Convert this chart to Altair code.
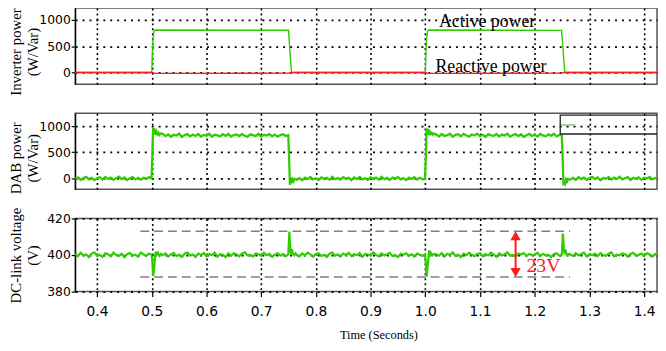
import altair as alt
import pandas as pd

# ---------------- data ----------------
X_DOMAIN = [0.36, 1.4235]
X_TICKS = [0.4, 0.5, 0.6, 0.7, 0.8, 0.9, 1.0, 1.1, 1.2, 1.3, 1.4]
POWER_TICKS = [0, 500, 1000]
VOLT_TICKS = [380, 400, 420]
P1_DOMAIN = [-222, 1222]
P2_DOMAIN = [-208, 1245]
P3_DOMAIN = [380, 420]
STEP = 0.005

# Inverter power (clean)
inv_active_t = [0.36, 0.5, 0.501, 0.5025, 0.504, 0.506, 0.75, 0.7515, 0.7535, 0.7555,
                1.0, 1.001, 1.0025, 1.004, 1.006, 1.249, 1.251, 1.253, 1.255, 1.4235]
inv_active_v = [0, 0, 350, 650, 780, 805, 800, 560, 250, 0,
                0, 350, 650, 780, 805, 798, 560, 250, 0, 0]
inv_reactive_t = [0.36, 0.5, 0.504, 0.75, 0.755, 1.0, 1.004, 1.25, 1.255, 1.4235]
inv_reactive_v = [0, 0, -18, -14, 0, 0, -18, -14, 0, 0]

# DAB power (noisy)
dab_run0 = [-12, 20, -28, 9, 30, -17, 13, -32, 3, 24, -21, 29, -9, 16, -27, 6, 33, -13, 19, -30,
            2, 25, -19, 11, -24, 14, -6, 21]
dab_tr1_t = [0.4995, 0.5010, 0.5025, 0.5040, 0.5055, 0.5070, 0.5085, 0.5100, 0.5120, 0.5140, 0.5160]
dab_tr1_v = [5, 420, 965, 860, 905, 835, 890, 845, 875, 830, 860]
dab_run1 = [852, 808, 843, 797, 834, 820, 856, 794, 828, 847, 803, 838, 811, 850, 799, 831, 816,
            853, 796, 835, 824, 804, 845, 813, 851, 800, 830, 841, 808, 848, 815, 795, 842, 827,
            809, 852, 801, 833, 819, 849, 806, 839, 798, 829, 845, 812]
dab_tr2_t = [0.7495, 0.7510, 0.7525, 0.7540, 0.7555, 0.7570, 0.7590, 0.7610]
dab_tr2_v = [825, 420, -120, -30, -85, -15, -55, -10]
dab_run2 = [-25, 8, -34, 17, -12, 28, -19, 4, -30, 21, -8, 14, -26, 31, -15, 7, -22, 25, -4, 12,
            -33, 18, -11, 29, -17, 3, -28, 22, -7, 15, -24, 33, -14, 10, -29, 19, -3, 26, -18, 6,
            -31, 17, -10, 23, -21, 11, -15]
dab_tr3_t = [0.9995, 1.0010, 1.0025, 1.0040, 1.0055, 1.0070, 1.0085, 1.0100, 1.0120, 1.0140, 1.0160]
dab_tr3_v = [-5, 410, 955, 870, 900, 830, 885, 850, 870, 835, 855]
dab_run3 = [838, 801, 849, 811, 827, 855, 796, 832, 846, 805, 852, 819, 798, 841, 823, 857, 807,
            833, 793, 847, 826, 809, 851, 802, 838, 820, 854, 799, 830, 848, 808, 843, 792, 825,
            852, 813, 836, 801, 850, 822, 805, 842, 817, 853, 803, 831]
dab_tr4_t = [1.2495, 1.2510, 1.2525, 1.2540, 1.2555, 1.2570, 1.2590, 1.2610]
dab_tr4_v = [820, 400, -130, -40, -90, -20, -60, -15]
dab_run4 = [-20, 12, -30, 23, -8, 17, -26, 5, 29, -14, 21, -34, 10, -4, 26, -22, 15, -11, 31, -18,
            3, 25, -28, 11, -7, 19, -25, 14, -1, 28, -17, 8, -12]

# DC-link voltage (noisy)
dc_run0 = [400.6, 399.4, 401.2, 399.9, 400.3, 398.9, 400.8, 401.5, 399.6, 400.1, 399.0, 400.9,
           400.4, 399.3, 401.3, 400.0, 399.5, 400.7, 398.8, 400.5, 401.1, 399.7, 400.2, 399.1,
           401.4, 400.3, 399.6, 400.8]
dc_tr1_t = [0.4995, 0.5010, 0.5025, 0.5040, 0.5055, 0.5070, 0.5090, 0.5110, 0.5140, 0.5170]
dc_tr1_v = [400.2, 396.5, 388.5, 391.5, 396.8, 401.8, 400.2, 401.3, 399.6, 400.7]
dc_run1 = [399.8, 400.9, 399.2, 400.4, 401.2, 399.5, 400.1, 398.9, 400.7, 401.4, 399.7, 400.3,
           399.0, 400.8, 400.0, 401.1, 399.4, 400.6, 399.9, 401.3, 399.1, 400.5, 400.2, 398.9,
           400.9, 399.6, 401.0, 400.3, 399.3, 400.7, 401.5, 399.8, 400.1, 399.2, 400.8, 400.4,
           399.5, 401.2, 399.9, 400.6, 399.0, 400.2, 401.0, 399.7, 400.5, 399.4]
dc_tr2_t = [0.7495, 0.7505, 0.7515, 0.7530, 0.7545, 0.7560, 0.7580, 0.7600, 0.7630]
dc_tr2_v = [400.3, 406.5, 412.8, 405.0, 400.4, 403.2, 400.8, 399.8, 400.9]
dc_run2 = [400.1, 399.3, 400.9, 399.8, 401.3, 400.4, 399.1, 400.6, 401.0, 399.5, 400.2, 398.9,
           400.7, 401.4, 399.7, 400.3, 399.2, 400.8, 400.0, 401.2, 399.4, 400.5, 399.9, 401.1,
           399.0, 400.6, 400.3, 399.6, 401.5, 400.1, 399.3, 400.9, 399.8, 400.4, 401.2, 399.5,
           400.0, 398.9, 400.7, 400.2, 401.0, 399.6, 400.4, 399.2, 400.8, 400.1, 399.7]
dc_tr3_t = [0.9995, 1.0010, 1.0025, 1.0040, 1.0055, 1.0070, 1.0085, 1.0100, 1.0130, 1.0160]
dc_tr3_v = [400.1, 395.0, 388.2, 393.0, 397.5, 402.5, 399.0, 401.2, 399.8, 400.6]
dc_run3 = [400.4, 399.6, 401.1, 399.2, 400.7, 400.0, 401.4, 399.5, 400.3, 398.9, 400.8, 399.9,
           401.2, 400.1, 399.4, 400.6, 401.0, 399.3, 400.5, 399.8, 401.3, 400.2, 399.0, 400.9,
           399.7, 400.4, 401.5, 399.6, 400.0, 399.1, 400.8, 400.3, 401.1, 399.5, 400.6, 399.9,
           400.2, 401.3, 399.4, 400.7, 399.8, 400.1, 398.9, 400.5, 401.0, 399.6]
dc_tr4_t = [1.2495, 1.2505, 1.2515, 1.2530, 1.2545, 1.2560, 1.2580, 1.2600, 1.2630]
dc_tr4_v = [400.2, 406.0, 411.8, 404.5, 400.6, 403.0, 400.5, 399.9, 400.7]
dc_run4 = [400.3, 399.5, 401.0, 399.8, 400.6, 401.3, 399.2, 400.4, 399.9, 400.8, 399.4, 401.1,
           400.0, 399.6, 400.7, 401.4, 399.3, 400.2, 399.8, 400.9, 400.4, 399.1, 400.6, 401.2,
           399.7, 400.1, 400.8, 399.5, 401.0, 400.3, 399.2, 400.5, 399.9]

# annotations
text1_t = [1.113, 1.12]
text1_v = [963, 110]
text1_label = ["Active power", "Reactive power"]
box_t = [1.2466, 1.46]
box_v = [849, 1208]
box_line_t = [1.247, 1.274]
box_line_v = 1019
dash_t = [0.479, 1.2646]
dash_levels = [413, 388]
arrow_t = 1.165
arrow_heads_v = [410.6, 390.4]
label23_t, label23_v, label23 = 1.216, 394, "23V"

# ---------------- helpers ----------------
GREEN = "#2ecc00"
RED = "#ff1a1a"
SERIF = "Liberation Serif"
SANS = "DejaVu Sans"
W = 589


def build(parts):
    t, v = [], []
    for p in parts:
        if p[0] == "run":
            start, vals = p[1], p[2]
            t += [round(start + i * STEP, 4) for i in range(len(vals))]
            v += list(vals)
        else:
            t += list(p[1])
            v += list(p[2])
    return pd.DataFrame({"t": t, "v": v})


active_df = pd.DataFrame({"t": inv_active_t, "v": inv_active_v})
reactive_df = pd.DataFrame({"t": inv_reactive_t, "v": inv_reactive_v})
dab_df = build([("run", 0.360, dab_run0), ("tr", dab_tr1_t, dab_tr1_v), ("run", 0.520, dab_run1),
                ("tr", dab_tr2_t, dab_tr2_v), ("run", 0.765, dab_run2), ("tr", dab_tr3_t, dab_tr3_v),
                ("run", 1.020, dab_run3), ("tr", dab_tr4_t, dab_tr4_v), ("run", 1.265, dab_run4)])
dc_df = build([("run", 0.360, dc_run0), ("tr", dc_tr1_t, dc_tr1_v), ("run", 0.520, dc_run1),
               ("tr", dc_tr2_t, dc_tr2_v), ("run", 0.765, dc_run2), ("tr", dc_tr3_t, dc_tr3_v),
               ("run", 1.020, dc_run3), ("tr", dc_tr4_t, dc_tr4_v), ("run", 1.265, dc_run4)])


def x_enc(show):
    kw = dict(values=X_TICKS, grid=True, gridColor="black", gridDash=[2, 3], gridWidth=1.6,
              gridOpacity=1, domain=False, labels=show, ticks=show, tickSize=5,
              tickColor="black", tickWidth=1.2, labelFont=SANS, labelFontSize=14,
              labelColor="black", labelPadding=8, format=".1f", labelFlush=False)
    if show:
        kw.update(title="Time (Seconds)", titleFont=SERIF, titleFontSize=12.5,
                  titleFontWeight="normal", titleColor="black", titleX=307, titleY=44,
                  titleAlign="center", titleBaseline="middle")
    else:
        kw.update(title=None)
    return alt.X("t:Q", scale=alt.Scale(domain=X_DOMAIN, nice=False, zero=False),
                 axis=alt.Axis(**kw))


def y_enc(domain, ticks, title, title_y):
    return alt.Y("v:Q", scale=alt.Scale(domain=domain, nice=False, zero=False),
                 axis=alt.Axis(values=ticks, format="d", grid=True, gridColor="black",
                               gridDash=[2, 5], gridWidth=1.8, gridOpacity=1,
                               domain=True, domainColor="black", domainWidth=1.2,
                               ticks=True, tickSize=4, tickColor="black", tickWidth=1.2,
                               labelFont=SANS, labelFontSize=12.5, labelColor="black",
                               labelPadding=1, labelFlush=False,
                               title=title, titleFont=SERIF, titleFontSize=15,
                               titleFontWeight="normal", titleColor="black",
                               titleAngle=270, titleX=-60, titleY=title_y,
                               titleAlign="center", titleBaseline="middle",
                               titleLineHeight=17))


# ---------------- panel 1 ----------------
y1 = y_enc(P1_DOMAIN, POWER_TICKS, ["Inverter power", "(W/Var)"], 44)
txt1_df = pd.DataFrame({"t": text1_t, "v": text1_v, "label": text1_label})
p1 = alt.layer(
    alt.Chart(active_df).mark_line(color=GREEN, strokeWidth=1.4, clip=True).encode(x=x_enc(False), y=y1),
    alt.Chart(reactive_df).mark_line(color=RED, strokeWidth=1.4, clip=True).encode(x=x_enc(False), y=y1),
    alt.Chart(txt1_df).mark_text(font=SERIF, fontSize=18, color="black").encode(
        x=x_enc(False), y=y1, text="label:N"),
).properties(width=W, height=77)

# ---------------- panel 2 ----------------
y2 = y_enc(P2_DOMAIN, POWER_TICKS, ["DAB power", "(W/Var)"], 45)
box_df = pd.DataFrame({"t": [box_t[0]], "t2": [box_t[1]], "v": [box_v[0]], "v2": [box_v[1]]})
boxline_df = pd.DataFrame({"t": [box_line_t[0]], "t2": [box_line_t[1]], "v": [box_line_v]})
p2 = alt.layer(
    alt.Chart(dab_df).mark_line(color=GREEN, strokeWidth=2.3, clip=True).encode(x=x_enc(False), y=y2),
    alt.Chart(boxline_df).mark_rule(color="#8cc08c", strokeWidth=1.5, clip=True).encode(
        x=x_enc(False), x2="t2:Q", y=y2),
    alt.Chart(box_df).mark_rect(fill="white", fillOpacity=0, stroke="#222", strokeWidth=1.3,
                                clip=True).encode(x=x_enc(False), x2="t2:Q", y=y2, y2="v2:Q"),
).properties(width=W, height=77)

# ---------------- panel 3 ----------------
y3 = y_enc(P3_DOMAIN, VOLT_TICKS, ["DC-link voltage", "(V)"], 37)
dash_df = pd.DataFrame({"t": [dash_t[0]] * 2, "t2": [dash_t[1]] * 2, "v": dash_levels})
arrow_df = pd.DataFrame({"t": [arrow_t], "v": [arrow_heads_v[1]], "v2": [arrow_heads_v[0]]})
head_up_df = pd.DataFrame({"t": [arrow_t], "v": [arrow_heads_v[0]]})
head_dn_df = pd.DataFrame({"t": [arrow_t], "v": [arrow_heads_v[1]]})
lab23_df = pd.DataFrame({"t": [label23_t], "v": [label23_v], "label": [label23]})
p3 = alt.layer(
    alt.Chart(dash_df).mark_rule(color="#808080", strokeWidth=1.5, strokeDash=[9, 5]).encode(
        x=x_enc(True), x2="t2:Q", y=y3),
    alt.Chart(dc_df).mark_line(color=GREEN, strokeWidth=2.2, clip=True).encode(x=x_enc(True), y=y3),
    alt.Chart(arrow_df).mark_rule(color=RED, strokeWidth=2).encode(x=x_enc(True), y=y3, y2="v2:Q"),
    alt.Chart(head_up_df).mark_point(shape="triangle-up", size=110, filled=True, color=RED,
                                     opacity=1).encode(x=x_enc(True), y=y3),
    alt.Chart(head_dn_df).mark_point(shape="triangle-down", size=110, filled=True, color=RED,
                                     opacity=1).encode(x=x_enc(True), y=y3),
    alt.Chart(lab23_df).mark_text(font=SERIF, fontSize=20, color=RED).encode(
        x=x_enc(True), y=y3, text="label:N"),
).properties(width=W, height=74)

chart = alt.vconcat(p1, p2, p3, spacing=29.5, bounds="flush").properties(
    padding={"left": 0, "top": -4, "right": 0, "bottom": 0}
).configure_view(stroke="#555", strokeWidth=1.5)

chart.save("out.html", embed_options={"renderer": "svg", "actions": False})
